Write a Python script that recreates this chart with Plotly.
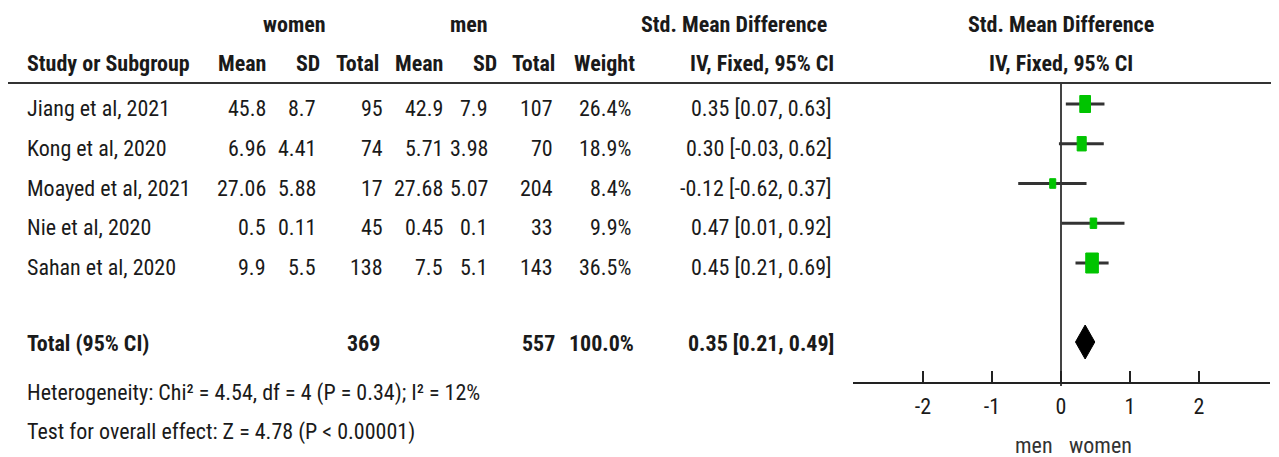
import plotly.graph_objects as go
import math

# ---------------- data ----------------
studies = ["Jiang et al, 2021", "Kong et al, 2020", "Moayed et al, 2021", "Nie et al, 2020", "Sahan et al, 2020"]
women_mean = ["45.8", "6.96", "27.06", "0.5", "9.9"]
women_sd = ["8.7", "4.41", "5.88", "0.11", "5.5"]
women_total = [95, 74, 17, 45, 138]
men_mean = ["42.9", "5.71", "27.68", "0.45", "7.5"]
men_sd = ["7.9", "3.98", "5.07", "0.1", "5.1"]
men_total = [107, 70, 204, 33, 143]
weights = [26.4, 18.9, 8.4, 9.9, 36.5]
smd = [0.35, 0.30, -0.12, 0.47, 0.45]
ci_low = [0.07, -0.03, -0.62, 0.01, 0.21]
ci_high = [0.63, 0.62, 0.37, 0.92, 0.69]
total_women = 369
total_men = 557
total_weight = 100.0
total_smd = 0.35
total_low = 0.21
total_high = 0.49
heterogeneity = "Heterogeneity: Chi² = 4.54, df = 4 (P = 0.34); I² = 12%"
overall = "Test for overall effect: Z = 4.78 (P < 0.00001)"
tick_vals = [-2, -1, 0, 1, 2]
tick_text = ["-2", "-1", "0", "1", "2"]

# ---------------- layout helpers (reference pixel space) ----------------
OFF = 8                      # page body margin
FW, FH = 1279 - OFF, 457 - OFF
ROW0, ROWH = 104.0, 39.75    # centre of first study row (marks), row pitch
TXT_DY = 4.5                 # text sits a little lower than the marks
PX_PER_UNIT = 69.0
ZERO_PX = 1061.0
FONT = "Roboto Condensed, Liberation Sans, sans-serif"
FS = 22
TXT = "#1a1a1a"


def row_of(py):
    return (py - ROW0) / ROWH


def px_x(px):
    return (px - OFF) / FW


fig = go.Figure()
ann = []


def txt(xpx, yrow, s, bold=False, anchor="right", color=TXT, size=FS):
    ann.append(dict(
        x=px_x(xpx), xref="paper", y=yrow, yref="y",
        text=f"<b>{s}</b>" if bold else s, showarrow=False,
        xanchor=anchor, yanchor="middle",
        font=dict(family=FONT, size=size, color=color),
    ))


tdy = TXT_DY / ROWH

# headers
h1, h2 = row_of(24), row_of(63)
txt(294, h1, "women", bold=True, anchor="center")
txt(469, h1, "men", bold=True, anchor="center")
txt(829, h1, "Std. Mean Difference", bold=True)
txt(ZERO_PX, h1, "Std. Mean Difference", bold=True, anchor="center")
txt(25, h2, "Study or Subgroup", bold=True, anchor="left")
for xr, lab in zip([268, 322, 381, 445, 499, 557, 637, 836],
                   ["Mean", "SD", "Total", "Mean", "SD", "Total", "Weight", "IV, Fixed, 95% CI"]):
    txt(xr, h2, lab, bold=True)
txt(ZERO_PX, h2, "IV, Fixed, 95% CI", bold=True, anchor="center")

# study rows
cols = [268, 318, 385, 445, 490, 555, 633, 834]
for i, name in enumerate(studies):
    ty = i + tdy
    txt(25, ty, name, anchor="left")
    vals = [women_mean[i], women_sd[i], str(women_total[i]), men_mean[i], men_sd[i],
            str(men_total[i]), f"{weights[i]:.1f}%",
            f"{smd[i]:.2f} [{ci_low[i]:.2f}, {ci_high[i]:.2f}]"]
    for xr, v in zip(cols, vals):
        txt(xr, ty, v)

# total row
tr = 6
txt(25, tr + tdy * 0.3, "Total (95% CI)", bold=True, anchor="left")
txt(382, tr + tdy * 0.3, str(total_women), bold=True)
txt(557, tr + tdy * 0.3, str(total_men), bold=True)
txt(636, tr + tdy * 0.3, f"{total_weight:.1f}%", bold=True)
txt(836, tr + tdy * 0.3, f"{total_smd:.2f} [{total_low:.2f}, {total_high:.2f}]", bold=True)

txt(25, row_of(393), heterogeneity, anchor="left")
txt(25, row_of(432), overall, anchor="left")

txt(1034, row_of(445), "men", anchor="center", color="#333333")
txt(1100, row_of(445), "women", anchor="center", color="#333333")

# ---------------- forest marks ----------------
fig.add_trace(go.Scatter(x=[0, 0], y=[row_of(83), row_of(386)], mode="lines",
                         line=dict(color="#444444", width=2), hoverinfo="skip"))

cx, cy = [], []
for i in range(len(studies)):
    cx += [ci_low[i], ci_high[i], None]
    cy += [i, i, None]
fig.add_trace(go.Scatter(x=cx, y=cy, mode="lines", line=dict(color="#333333", width=3),
                         hoverinfo="skip"))

max_w = max(weights)
for i in range(len(studies)):
    hpx = 20.0 * math.sqrt(weights[i] / max_w)
    wpx = 0.63 * hpx
    hx = wpx / 2 / PX_PER_UNIT
    hy = hpx / 2 / ROWH
    fig.add_trace(go.Scatter(
        x=[smd[i] - hx, smd[i] + hx, smd[i] + hx, smd[i] - hx, smd[i] - hx],
        y=[i - hy, i - hy, i + hy, i + hy, i - hy],
        mode="lines", fill="toself", fillcolor="#00c400",
        line=dict(color="#00c400", width=1), hoverinfo="skip"))

dh = 17.0 / ROWH
dy_d = row_of(342)
fig.add_trace(go.Scatter(
    x=[total_low, total_smd, total_high, total_smd, total_low],
    y=[dy_d, dy_d - dh, dy_d, dy_d + dh, dy_d],
    mode="lines", fill="toself", fillcolor="#000000",
    line=dict(color="#000000", width=1), hoverinfo="skip"))

fig.update_layout(
    width=FW, height=FH, margin=dict(l=0, r=0, t=0, b=0),
    paper_bgcolor="white", plot_bgcolor="white", showlegend=False,
    annotations=ann,
    shapes=[dict(type="line", xref="paper", yref="y", x0=px_x(8), x1=1,
                 y0=row_of(83), y1=row_of(83), line=dict(color="#333333", width=2))],
    xaxis=dict(
        domain=[px_x(853), px_x(1270)],
        range=[(853 - ZERO_PX) / PX_PER_UNIT, (1270 - ZERO_PX) / PX_PER_UNIT],
        anchor="free", position=1 - (383 - OFF) / FH,
        showline=True, linewidth=2, linecolor="#222222",
        ticks="inside", ticklen=11, tickwidth=2, tickcolor="#222222",
        tickvals=tick_vals, ticktext=tick_text, ticklabelstandoff=4,
        tickfont=dict(family=FONT, size=FS, color=TXT),
        showgrid=False, zeroline=False, fixedrange=True,
    ),
    yaxis=dict(range=[row_of(457), row_of(OFF)], domain=[0, 1], visible=False,
               showgrid=False, zeroline=False),
)

fig.write_html("out.html")
